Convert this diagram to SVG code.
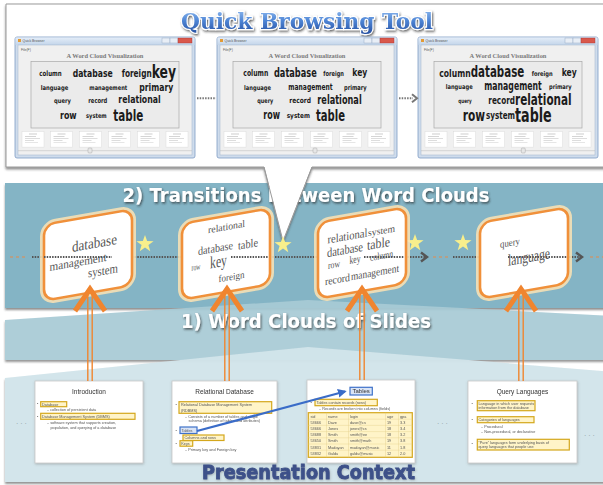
<svg xmlns="http://www.w3.org/2000/svg" xmlns:xlink="http://www.w3.org/1999/xlink" width="603" height="485" viewBox="0 0 603 485">
  <defs>
    <style>
      .cw { font-family: "DejaVu Sans Condensed", "DejaVu Sans", sans-serif; font-weight: bold; fill: #1b1b1b; }
      .ct { font-family: "Liberation Serif", serif; fill: #555; text-anchor: middle; }
      .sl { font-family: "Liberation Sans", Arial, sans-serif; fill: #555; font-size: 3.8px; }
      .st { font-family: "Liberation Sans", Arial, sans-serif; fill: #333; font-size: 6.5px; text-anchor: middle; }
      .hl { fill: #fff4c8; stroke: #d4a71c; stroke-width: 1.2; }
      .hb { fill: #d9e4f6; stroke: #3f72c9; stroke-width: 1.2; }
      .slide { fill: #ffffff; stroke: #c9c9c9; stroke-width: 0.8; }
      .band-title { font-family: "DejaVu Sans", sans-serif; font-weight: bold; fill: #ffffff; }
      .oarrow { fill: none; stroke: #f0852f; }
      .star { fill: #f8ef8c; }
      .dots { fill: none; stroke: #555; stroke-width: 2.2; stroke-dasharray: 1.5 1.2; }
      .odash { fill: none; stroke: #e58a4a; stroke-width: 1; stroke-dasharray: 3 3; }
      .tb { font-family: "Liberation Sans", Arial, sans-serif; font-size: 3.4px; fill: #555; }
    </style>
    <linearGradient id="titleGrad" x1="0" y1="0" x2="0" y2="1">
      <stop offset="0" stop-color="#9cc4f2"/>
      <stop offset="0.5" stop-color="#4f86d6"/>
      <stop offset="1" stop-color="#254fa0"/>
    </linearGradient>
    <linearGradient id="barGrad" x1="0" y1="0" x2="0" y2="1">
      <stop offset="0" stop-color="#e4edf8"/>
      <stop offset="1" stop-color="#c3d5ea"/>
    </linearGradient>
    <filter id="shadow" x="-5%" y="-5%" width="110%" height="120%">
      <feDropShadow dx="0" dy="2" stdDeviation="1.2" flood-color="#444" flood-opacity="0.6"/>
    </filter>
    <filter id="txtShadow" x="-5%" y="-20%" width="110%" height="150%">
      <feDropShadow dx="1" dy="1.5" stdDeviation="0.8" flood-color="#222" flood-opacity="0.7"/>
    </filter>
    <filter id="soft" x="-5%" y="-5%" width="110%" height="115%">
      <feDropShadow dx="0.5" dy="1" stdDeviation="0.8" flood-color="#666" flood-opacity="0.4"/>
    </filter>
    <marker id="blueHead" viewBox="0 0 10 10" refX="8" refY="5" markerWidth="4" markerHeight="4" orient="auto">
      <path d="M0,0 L10,5 L0,10 Z" fill="#3a6cc8"/>
    </marker>

    <!-- slide thumbnail in the browser strip -->
    <g id="thumb">
      <rect x="0" y="0" width="22" height="15.6" fill="#fff" stroke="#d6d6d6" stroke-width="0.4"/>
      <line x1="7" y1="2.5" x2="15" y2="2.5" stroke="#999" stroke-width="0.5"/>
      <line x1="3" y1="5" x2="14" y2="5" stroke="#aaa" stroke-width="0.5"/>
      <line x1="3" y1="7" x2="18" y2="7" stroke="#bbb" stroke-width="0.5"/>
      <line x1="3" y1="9" x2="12" y2="9" stroke="#bbb" stroke-width="0.5"/>
      <line x1="3" y1="11" x2="16" y2="11" stroke="#ccc" stroke-width="0.5"/>
    </g>

    <!-- browser window chrome, 180 x 121 -->
    <g id="win">
      <rect x="0" y="0" width="180" height="121" rx="2" fill="#cfdcec" stroke="#7f9cc4" stroke-width="0.8"/>
      <rect x="0.5" y="0.5" width="179" height="7.5" fill="url(#barGrad)"/>
      <rect x="3" y="2" width="3" height="3" fill="#e39b35"/>
      <text x="7.5" y="5.3" class="tb">Quick Browser</text>
      <rect x="147" y="1" width="8" height="5" fill="#e8eef6" stroke="#8aa0bf" stroke-width="0.4"/>
      <rect x="155" y="1" width="8" height="5" fill="#e8eef6" stroke="#8aa0bf" stroke-width="0.4"/>
      <rect x="163" y="1" width="14" height="5" fill="#d9584b" stroke="#a33" stroke-width="0.4"/>
      <rect x="3" y="8" width="174" height="110" fill="#f0f0f0" stroke="#9fb3cc" stroke-width="0.5"/>
      <text x="6" y="13.5" class="tb" fill="#333">File(F)</text>
      <text x="90" y="21" text-anchor="middle" font-family="Liberation Serif, serif" font-weight="bold" font-size="6.4" fill="#7a7a7a">A Word Cloud Visualization</text>
      <rect x="16" y="24.5" width="148" height="66.5" fill="#ebebeb" stroke="#a8a8a8" stroke-width="0.7"/>
      <use xlink:href="#thumb" x="7" y="94.5"/>
      <use xlink:href="#thumb" x="35.5" y="94.5"/>
      <use xlink:href="#thumb" x="64.5" y="94.5"/>
      <use xlink:href="#thumb" x="93.5" y="94.5"/>
      <use xlink:href="#thumb" x="122.5" y="94.5"/>
      <use xlink:href="#thumb" x="151" y="94.5"/>
      <line x1="3" y1="113.7" x2="177" y2="113.7" stroke="#b9b9b9" stroke-width="0.5"/>
    </g>

    <path id="starShape" d="M0,-9 L2.12,-2.91 L8.56,-2.78 L3.42,1.11 L5.29,7.28 L0,3.6 L-5.29,7.28 L-3.42,1.11 L-8.56,-2.78 L-2.12,-2.91 Z"/>

    <g id="cardShape">
      <rect x="-44" y="-38" width="88" height="76" rx="11" fill="none" stroke="#fbe3b4" stroke-width="8" opacity="0.85"/>
      <rect x="-44" y="-38" width="88" height="76" rx="11" fill="#ffffff" stroke="#f0903a" stroke-width="2.6"/>
    </g>
  </defs>

  <!-- background layers -->
  <rect x="0" y="0" width="603" height="485" fill="#ffffff"/>

  <g id="layer-transitions">
    <rect x="5" y="183" width="610" height="125" fill="#84b4c5" filter="url(#shadow)"/>
  </g>
  <g id="layer-slide-clouds">
    <polygon points="5,320 308,300 615,316 615,360 5,360" fill="#a8cbd6" opacity="0.93" filter="url(#shadow)"/>
  </g>
  <g id="layer-context">
    <polygon points="5,378 308,347 615,372 615,482 5,482" fill="#d2e5eb" opacity="0.97" filter="url(#shadow)"/>
  </g>

  <!-- top panel: quick browsing tool -->
  <g id="browser-panel">
    <path d="M6,4 H615 V167 H312 L283,241 L264,167 H6 Z" fill="#ffffff" stroke="#9a9a9a" stroke-width="1" filter="url(#shadow)"/>
    <text x="307" y="29" text-anchor="middle" font-family="DejaVu Serif, serif" font-weight="bold" font-size="23" textLength="252" lengthAdjust="spacingAndGlyphs" fill="url(#titleGrad)" stroke="#ffffff" stroke-width="2.4" paint-order="stroke" filter="url(#txtShadow)">Quick Browsing Tool</text>
  </g>

  <g id="window-1">
    <use xlink:href="#win" x="15" y="37"/>
    <text class="cw" x="39.3" y="75.7" font-size="7.5" textLength="22.4" lengthAdjust="spacingAndGlyphs">column</text>
    <text class="cw" x="72.7" y="76.7" font-size="11" textLength="40" lengthAdjust="spacingAndGlyphs">database</text>
    <text class="cw" x="121.7" y="76.7" font-size="11" textLength="30" lengthAdjust="spacingAndGlyphs">foreign</text>
    <text class="cw" x="151.7" y="77.7" font-size="17" textLength="24.3" lengthAdjust="spacingAndGlyphs">key</text>
    <text class="cw" x="40.7" y="90" font-size="6.5" textLength="27.6" lengthAdjust="spacingAndGlyphs">language</text>
    <text class="cw" x="89.3" y="90" font-size="6.5" textLength="38" lengthAdjust="spacingAndGlyphs">management</text>
    <text class="cw" x="139.3" y="91" font-size="11" textLength="34" lengthAdjust="spacingAndGlyphs">primary</text>
    <text class="cw" x="54" y="103.3" font-size="6.5" textLength="17" lengthAdjust="spacingAndGlyphs">query</text>
    <text class="cw" x="88.3" y="102.7" font-size="7" textLength="19" lengthAdjust="spacingAndGlyphs">record</text>
    <text class="cw" x="118.3" y="103.3" font-size="11" textLength="42.4" lengthAdjust="spacingAndGlyphs">relational</text>
    <text class="cw" x="60" y="119.3" font-size="11" textLength="16.7" lengthAdjust="spacingAndGlyphs">row</text>
    <text class="cw" x="86" y="118.3" font-size="6.5" textLength="20.7" lengthAdjust="spacingAndGlyphs">system</text>
    <text class="cw" x="113.3" y="120.7" font-size="15" textLength="30" lengthAdjust="spacingAndGlyphs">table</text>
    <rect x="88" y="148" width="4" height="5" rx="1" fill="#e6e6e6" stroke="#999" stroke-width="0.4"/>
  </g>

  <g id="window-2">
    <use xlink:href="#win" x="217" y="37"/>
    <text class="cw" x="243.3" y="75.7" font-size="8" textLength="25" lengthAdjust="spacingAndGlyphs">column</text>
    <text class="cw" x="274" y="76.7" font-size="12" textLength="42.7" lengthAdjust="spacingAndGlyphs">database</text>
    <text class="cw" x="323.3" y="76" font-size="7" textLength="20.7" lengthAdjust="spacingAndGlyphs">foreign</text>
    <text class="cw" x="352.3" y="76" font-size="11" textLength="15" lengthAdjust="spacingAndGlyphs">key</text>
    <text class="cw" x="244" y="90" font-size="6.5" textLength="27" lengthAdjust="spacingAndGlyphs">language</text>
    <text class="cw" x="288.3" y="90" font-size="8.5" textLength="44.4" lengthAdjust="spacingAndGlyphs">management</text>
    <text class="cw" x="344" y="90" font-size="7" textLength="22.7" lengthAdjust="spacingAndGlyphs">primary</text>
    <text class="cw" x="257.3" y="103.3" font-size="6.5" textLength="16" lengthAdjust="spacingAndGlyphs">query</text>
    <text class="cw" x="289.3" y="103.3" font-size="7.5" textLength="21.7" lengthAdjust="spacingAndGlyphs">record</text>
    <text class="cw" x="317.3" y="104" font-size="12" textLength="44.4" lengthAdjust="spacingAndGlyphs">relational</text>
    <text class="cw" x="263.3" y="119.3" font-size="12" textLength="16.7" lengthAdjust="spacingAndGlyphs">row</text>
    <text class="cw" x="286.7" y="118.3" font-size="7" textLength="23.3" lengthAdjust="spacingAndGlyphs">system</text>
    <text class="cw" x="316" y="120.7" font-size="15" textLength="29" lengthAdjust="spacingAndGlyphs">table</text>
    <rect x="313" y="148" width="4" height="5" rx="1" fill="#e6e6e6" stroke="#999" stroke-width="0.4"/>
  </g>

  <g id="window-3">
    <use xlink:href="#win" x="418" y="37"/>
    <text class="cw" x="439.3" y="76.7" font-size="10" textLength="31.4" lengthAdjust="spacingAndGlyphs">column</text>
    <text class="cw" x="470.7" y="77.3" font-size="15" textLength="53.6" lengthAdjust="spacingAndGlyphs">database</text>
    <text class="cw" x="531.7" y="75.7" font-size="6.5" textLength="21" lengthAdjust="spacingAndGlyphs">foreign</text>
    <text class="cw" x="561.7" y="75.7" font-size="11" textLength="15" lengthAdjust="spacingAndGlyphs">key</text>
    <text class="cw" x="445.7" y="89.3" font-size="6.5" textLength="27" lengthAdjust="spacingAndGlyphs">language</text>
    <text class="cw" x="484.3" y="90" font-size="12" textLength="57.4" lengthAdjust="spacingAndGlyphs">management</text>
    <text class="cw" x="549" y="89.3" font-size="6.5" textLength="22.7" lengthAdjust="spacingAndGlyphs">primary</text>
    <text class="cw" x="458.3" y="103.3" font-size="6" textLength="13.4" lengthAdjust="spacingAndGlyphs">query</text>
    <text class="cw" x="488.3" y="104.3" font-size="11" textLength="26.7" lengthAdjust="spacingAndGlyphs">record</text>
    <text class="cw" x="515" y="105" font-size="15" textLength="56.7" lengthAdjust="spacingAndGlyphs">relational</text>
    <text class="cw" x="462.7" y="120.7" font-size="15" textLength="22.3" lengthAdjust="spacingAndGlyphs">row</text>
    <text class="cw" x="486" y="119.3" font-size="10" textLength="29" lengthAdjust="spacingAndGlyphs">system</text>
    <text class="cw" x="515" y="121.7" font-size="20" textLength="36.7" lengthAdjust="spacingAndGlyphs" fill="#d41212">table</text>
    <rect x="521.3" y="148" width="4" height="5" rx="1" fill="#e6e6e6" stroke="#999" stroke-width="0.4"/>
  </g>

  <!-- connectors -->
  <g id="connectors">
    <!-- browser steps -->
    <line x1="197" y1="98.3" x2="216" y2="98.3" stroke="#777" stroke-width="2" stroke-dasharray="1.5 1.2"/>
    <line x1="399" y1="98.3" x2="413" y2="98.3" stroke="#777" stroke-width="2" stroke-dasharray="1.5 1.2"/>
    <path d="M412,94.3 L417,98.3 L412,102.3" fill="none" stroke="#777" stroke-width="2"/>

    <!-- transition timeline behind the clouds -->
    <line class="odash" x1="10" y1="257" x2="25" y2="257"/>
    <line class="dots" x1="32" y1="257" x2="425" y2="257"/>
    <line class="odash" x1="433" y1="257" x2="448" y2="257"/>
    <line class="dots" x1="453" y1="257" x2="580" y2="257"/>
    <line class="odash" x1="590" y1="257" x2="603" y2="257"/>
  </g>

  <!-- band labels -->
  <text class="band-title" x="306" y="202" text-anchor="middle" font-size="19" textLength="367" lengthAdjust="spacingAndGlyphs" filter="url(#txtShadow)">2) Transitions between Word Clouds</text>
  <text class="band-title" x="306" y="328" text-anchor="middle" font-size="19" textLength="250" lengthAdjust="spacingAndGlyphs" filter="url(#txtShadow)">1) Word Clouds of Slides</text>

  <!-- callout pointer over the band label -->
  <path d="M264.5,166 L283,241 L311.5,166 Z" fill="#ffffff"/>
  <path d="M264,167 L283,241 L312,167" fill="none" stroke="#9a9a9a" stroke-width="1"/>

  <!-- stars marking transitions -->
  <g id="stars">
    <use xlink:href="#starShape" class="star" x="145" y="244"/>
    <use xlink:href="#starShape" class="star" x="283" y="245"/>
    <use xlink:href="#starShape" class="star" x="415" y="243"/>
    <use xlink:href="#starShape" class="star" x="463" y="243"/>
  </g>

  <!-- word cloud cards -->
  <g id="cloud-1" transform="translate(88,255) skewY(-10)">
    <use xlink:href="#cardShape"/>
    <text class="ct" x="6.5" y="-5.9" font-size="15" fill="#666" textLength="45" lengthAdjust="spacingAndGlyphs">database</text>
    <text class="ct" x="-10" y="9.2" font-size="12" fill="#444" textLength="57" lengthAdjust="spacingAndGlyphs">management</text>
    <text class="ct" x="15" y="22.6" font-size="13" fill="#555" textLength="30" lengthAdjust="spacingAndGlyphs">system</text>
  </g>
  <g id="cloud-2" transform="translate(226,254) skewY(-10)">
    <use xlink:href="#cardShape"/>
    <text class="ct" x="0.5" y="-23.9" font-size="10" fill="#444" textLength="37" lengthAdjust="spacingAndGlyphs">relational</text>
    <text class="ct" x="-10.5" y="-3.8" font-size="11.5" textLength="35" lengthAdjust="spacingAndGlyphs">database</text>
    <text class="ct" x="22" y="-2.1" font-size="12" fill="#666" textLength="20" lengthAdjust="spacingAndGlyphs">table</text>
    <text class="ct" x="-30" y="10.7" font-size="9" fill="#777" textLength="9" lengthAdjust="spacingAndGlyphs">row</text>
    <text class="ct" x="-7.5" y="11.7" font-size="17" fill="#666" textLength="17" lengthAdjust="spacingAndGlyphs">key</text>
    <text class="ct" x="5.5" y="27" font-size="10" fill="#444" textLength="26" lengthAdjust="spacingAndGlyphs">foreign</text>
  </g>
  <g id="cloud-3" transform="translate(362,253) skewY(-10)">
    <use xlink:href="#cardShape"/>
    <text class="ct" x="-14.5" y="-15.5" font-size="12" fill="#666" textLength="40" lengthAdjust="spacingAndGlyphs">relational</text>
    <text class="ct" x="19.5" y="-15.6" font-size="10" fill="#555" textLength="27" lengthAdjust="spacingAndGlyphs">system</text>
    <text class="ct" x="-17" y="-2" font-size="13" fill="#666" textLength="36" lengthAdjust="spacingAndGlyphs">database</text>
    <text class="ct" x="16.5" y="-2.1" font-size="14" fill="#e26b6b" textLength="23" lengthAdjust="spacingAndGlyphs">table</text>
    <text class="ct" x="-28" y="10" font-size="10" fill="#777" textLength="12" lengthAdjust="spacingAndGlyphs">row</text>
    <text class="ct" x="-7" y="8.8" font-size="11" fill="#777" textLength="11" lengthAdjust="spacingAndGlyphs">key</text>
    <text class="ct" x="19.5" y="9.4" font-size="10" fill="#555" textLength="23" lengthAdjust="spacingAndGlyphs">column</text>
    <text class="ct" x="-24.5" y="25.7" font-size="11" fill="#666" textLength="25" lengthAdjust="spacingAndGlyphs">record</text>
    <text class="ct" x="13" y="25.3" font-size="11" fill="#444" textLength="48" lengthAdjust="spacingAndGlyphs">management</text>
  </g>
  <g id="cloud-4" transform="translate(524,253) skewY(-10)">
    <use xlink:href="#cardShape"/>
    <text class="ct" x="-14" y="-9.5" font-size="10" fill="#666" textLength="20" lengthAdjust="spacingAndGlyphs">query</text>
    <text class="ct" x="5" y="10" font-size="16" fill="#666" textLength="42" lengthAdjust="spacingAndGlyphs">language</text>
  </g>

  <!-- timeline passes over part of the clouds -->
  <g id="timeline-front">
    <line class="dots" x1="44" y1="257" x2="112" y2="257"/>
    <line class="dots" x1="231" y1="257" x2="268" y2="257"/>
    <line class="dots" x1="364" y1="257" x2="404" y2="257"/>
    <line class="dots" x1="508" y1="257" x2="567" y2="257"/>
    <path d="M421,252.5 L427,257 L421,261.5" fill="none" stroke="#555" stroke-width="2.4"/>
    <path d="M576,252.5 L582,257 L576,261.5" fill="none" stroke="#555" stroke-width="2.4"/>
  </g>

  <!-- slides of the presentation -->
  <g id="slide-1" filter="url(#soft)">
    <rect class="slide" x="35" y="381" width="108" height="82"/>
    <text class="st" x="89" y="394">Introduction</text>
    <text class="sl" x="37" y="405.3">•</text>
    <rect class="hl" x="40.7" y="401.7" width="26" height="5"/>
    <text class="sl" x="42" y="405.5" font-size="4.2">Database</text>
    <text class="sl" x="47" y="410.6">– collection of persistent data</text>
    <text class="sl" x="37" y="417.6">•</text>
    <rect class="hl" x="40.7" y="413.3" width="94.3" height="6"/>
    <text class="sl" x="42" y="417.7" font-size="4.4">Database Management System (DBMS)</text>
    <text class="sl" x="47" y="424">– software system that supports creation,</text>
    <text class="sl" x="50.5" y="428.5">population, and querying of a database</text>
  </g>

  <g id="slide-2" filter="url(#soft)">
    <rect class="slide" x="172" y="381" width="105" height="82"/>
    <text class="st" x="224.5" y="394">Relational Database</text>
    <text class="sl" x="175.5" y="405.5">•</text>
    <rect class="hl" x="179" y="401.7" width="92.7" height="11.6"/>
    <text class="sl" x="181" y="406" font-size="4.4">Relational Database Management System</text>
    <text class="sl" x="181" y="411.5" font-size="4.4">(RDBMS)</text>
    <text class="sl" x="185" y="417.5">– Consists of a number of tables and single</text>
    <text class="sl" x="188.5" y="422">schema (definition of tables and attributes)</text>
    <text class="sl" x="175.5" y="432">•</text>
    <rect class="hb" x="180" y="427" width="17" height="6.5"/>
    <text class="sl" x="181.5" y="431.8" font-size="4.2">Tables</text>
    <rect class="hl" x="183" y="435" width="41" height="5.5"/>
    <text class="sl" x="184.5" y="439.2" font-size="4">Columns and rows</text>
    <text class="sl" x="175.5" y="445">•</text>
    <rect class="hl" x="180" y="440.7" width="12.7" height="5.5"/>
    <text class="sl" x="181.3" y="444.8" font-size="4">Keys</text>
    <text class="sl" x="185" y="451">– Primary key and Foreign key</text>
  </g>

  <g id="slide-3" filter="url(#soft)">
    <rect class="slide" x="307" y="380" width="108" height="83"/>
    <rect class="hb" x="350" y="387.3" width="22.3" height="7.7"/>
    <text x="361.2" y="393.2" text-anchor="middle" font-family="Liberation Sans, Arial, sans-serif" font-size="6" fill="#333">Tables</text>
    <text class="sl" x="310.5" y="404">•</text>
    <rect class="hl" x="315" y="399.3" width="62.3" height="6.4"/>
    <text class="sl" x="316.5" y="404" font-size="4.2">Tables contain records (rows)</text>
    <text class="sl" x="319" y="410.2">– Records are broken into columns (fields)</text>
    <rect class="hl" x="308.3" y="412.7" width="104" height="44.6"/>
    <g stroke="#e3d08a" stroke-width="0.4">
      <line x1="308.3" y1="419.2" x2="412.3" y2="419.2"/>
      <line x1="308.3" y1="425.4" x2="412.3" y2="425.4"/>
      <line x1="308.3" y1="431.6" x2="412.3" y2="431.6"/>
      <line x1="308.3" y1="437.8" x2="412.3" y2="437.8"/>
      <line x1="308.3" y1="444" x2="412.3" y2="444"/>
      <line x1="308.3" y1="450.2" x2="412.3" y2="450.2"/>
      <line x1="326.5" y1="412.7" x2="326.5" y2="457.3"/>
      <line x1="348.5" y1="412.7" x2="348.5" y2="457.3"/>
      <line x1="385.5" y1="412.7" x2="385.5" y2="457.3"/>
      <line x1="398.5" y1="412.7" x2="398.5" y2="457.3"/>
    </g>
    <g class="sl" font-size="3.8">
      <text x="310.5" y="417.6">sid</text><text x="328" y="417.6">name</text><text x="350" y="417.6">login</text><text x="387" y="417.6">age</text><text x="400" y="417.6">gpa</text>
      <text x="310.5" y="423.8">53666</text><text x="328" y="423.8">Dave</text><text x="350" y="423.8">dave@cs</text><text x="387" y="423.8">19</text><text x="400" y="423.8">3.3</text>
      <text x="310.5" y="430">53666</text><text x="328" y="430">Jones</text><text x="350" y="430">jones@cs</text><text x="387" y="430">18</text><text x="400" y="430">3.4</text>
      <text x="310.5" y="436.2">53688</text><text x="328" y="436.2">Smith</text><text x="350" y="436.2">smith@ee</text><text x="387" y="436.2">18</text><text x="400" y="436.2">3.2</text>
      <text x="310.5" y="442.4">53650</text><text x="328" y="442.4">Smith</text><text x="350" y="442.4">smith@math</text><text x="387" y="442.4">19</text><text x="400" y="442.4">3.8</text>
      <text x="310.5" y="448.6">53831</text><text x="328" y="448.6">Madayan</text><text x="350" y="448.6">madayan@music</text><text x="387" y="448.6">11</text><text x="400" y="448.6">1.8</text>
      <text x="310.5" y="454.8">53832</text><text x="328" y="454.8">Guldu</text><text x="350" y="454.8">guldu@music</text><text x="387" y="454.8">12</text><text x="400" y="454.8">2.0</text>
    </g>
  </g>

  <g id="slide-4" filter="url(#soft)">
    <rect class="slide" x="468" y="381" width="109" height="82"/>
    <text class="st" x="522.5" y="394">Query Languages</text>
    <text class="sl" x="471.5" y="405">•</text>
    <rect class="hl" x="477.3" y="400.7" width="57.7" height="10"/>
    <text class="sl" x="478.5" y="404.8" font-size="4">Language in which user requests</text>
    <text class="sl" x="478.5" y="409.3" font-size="4">information from the database</text>
    <text class="sl" x="471.5" y="421">•</text>
    <rect class="hl" x="477.3" y="416.7" width="56.7" height="6"/>
    <text class="sl" x="478.5" y="421" font-size="4.2">Categories of languages</text>
    <text class="sl" x="481" y="427.5">– Procedural</text>
    <text class="sl" x="481" y="432.5">– Non-procedural, or declarative</text>
    <text class="sl" x="471.5" y="445">•</text>
    <rect class="hl" x="477.3" y="439.3" width="92" height="10.7"/>
    <text class="sl" x="478.5" y="443.6" font-size="4.2">“Pure” languages form underlying basis of</text>
    <text class="sl" x="478.5" y="448.4" font-size="4.2">query languages that people use</text>
  </g>

  <!-- elided slides -->
  <g font-family="Liberation Sans, Arial, sans-serif" font-size="7" fill="#8a9aa0">
    <text x="16" y="426">· · ·</text>
    <text x="437" y="426">· · ·</text>
    <text x="584" y="438">· · ·</text>
  </g>

  <!-- slide to word cloud arrows -->
  <g id="cloud-arrows">
    <g class="oarrow">
      <path d="M75,311 L90,289 L105,311" stroke-width="5"/>
      <line x1="87.8" y1="293" x2="87.8" y2="381" stroke-width="1.4"/>
      <line x1="92.2" y1="293" x2="92.2" y2="381" stroke-width="1.4"/>
      <path d="M212,311 L227,289 L242,311" stroke-width="5"/>
      <line x1="224.8" y1="293" x2="224.8" y2="381" stroke-width="1.4"/>
      <line x1="229.2" y1="293" x2="229.2" y2="381" stroke-width="1.4"/>
      <path d="M347,311 L362,289 L377,311" stroke-width="5"/>
      <line x1="359.8" y1="293" x2="359.8" y2="380" stroke-width="1.4"/>
      <line x1="364.2" y1="293" x2="364.2" y2="380" stroke-width="1.4"/>
      <path d="M506,311 L521,289 L536,311" stroke-width="5"/>
      <line x1="518.8" y1="293" x2="518.8" y2="381" stroke-width="1.4"/>
      <line x1="523.2" y1="293" x2="523.2" y2="381" stroke-width="1.4"/>
    </g>
    <!-- topic link between slides -->
    <line x1="197" y1="431" x2="345" y2="391.5" stroke="#3a6cc8" stroke-width="2.2" marker-end="url(#blueHead)"/>
  </g>

  <text x="308.5" y="479" text-anchor="middle" font-family="DejaVu Sans, sans-serif" font-weight="bold" font-size="20" textLength="213" lengthAdjust="spacingAndGlyphs" fill="#3d5189" stroke="#3d5189" stroke-width="0.9" filter="url(#soft)">Presentation Context</text>
</svg>
